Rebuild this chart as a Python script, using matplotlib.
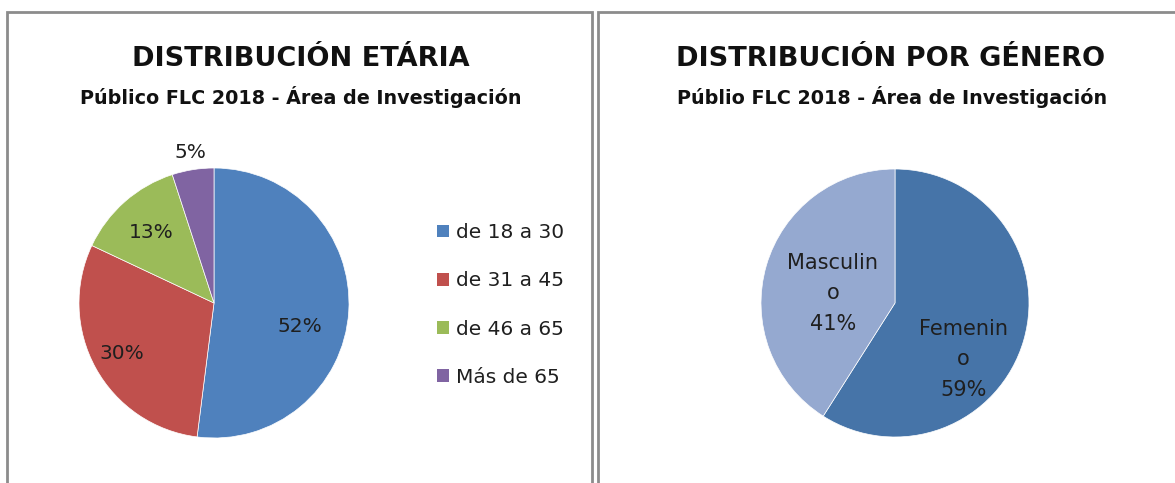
import numpy as np
import matplotlib
matplotlib.use('Agg')
import matplotlib.pyplot as plt
from matplotlib.patches import Rectangle, Patch

plt.rcParams['font.family'] = ['DejaVu Sans']

# Distribución etaria
edad_labels = ['de 18 a 30', 'de 31 a 45', 'de 46 a 65', 'Más de 65']
edad_values = [52, 30, 13, 5]
edad_colors = ['#4F81BD', '#C0504D', '#9BBB59', '#8064A2']

# Distribución por género
genero_labels = ['Femenin\no', 'Masculin\no']
genero_values = [59, 41]
genero_colors = ['#4674A8', '#95A9D0']

W, H = 1175, 483
fig = plt.figure(figsize=(W / 100, H / 100), dpi=100)
txt_color = '#1F1F1F'


def px_axes(cx, cy, r, pad=1.3):
    half = r * pad
    return fig.add_axes([(cx - half) / W, (H - cy - half) / H, 2 * half / W, 2 * half / H])


# panel borders
for x0, x1 in [(7, 592), (598, 1200)]:
    fig.add_artist(Rectangle((x0 / W, -0.1), (x1 - x0) / W, (H - 12) / H + 0.1,
                             transform=fig.transFigure, fill=False,
                             edgecolor='#8C8C8C', linewidth=2))

# left pie
ax1 = px_axes(214, 303, 135)
wedges, _ = ax1.pie(edad_values, colors=edad_colors, startangle=90, counterclock=False,
                    radius=1, wedgeprops=dict(linewidth=0.5, edgecolor='white'))
ax1.set_xlim(-1.3, 1.3)
ax1.set_ylim(-1.3, 1.3)
ax1.set_aspect('equal')
# label placement (radius fraction, angle override in degrees or None)
edad_lbl_pos = [(0.66, -15.5), (0.78, None), (0.70, None), (1.13, None)]
for w, v, (d, ang) in zip(wedges, edad_values, edad_lbl_pos):
    a = ang if ang is not None else (w.theta1 + w.theta2) / 2
    ax1.text(d * np.cos(np.radians(a)), d * np.sin(np.radians(a)), f'{v}%',
             ha='center', va='center', fontsize=14.5, color=txt_color)

fig.text(301 / W, 1 - 59 / H, 'DISTRIBUCIÓN ETÁRIA', ha='center', va='center',
         fontsize=19.5, fontweight='bold', color='#111111')
fig.text(301 / W, 1 - 97 / H, 'Público FLC 2018 - Área de Investigación', ha='center',
         va='center', fontsize=13.8, fontweight='bold', color='#111111')

handles = [Patch(facecolor=c, edgecolor='none') for c in edad_colors]
fig.legend(handles, edad_labels, loc='center left', bbox_to_anchor=(419 / W, 1 - 305 / H),
           frameon=False, prop={'size': 14.5}, labelspacing=1.45, handlelength=0.6,
           handleheight=0.6, handletextpad=0.35, labelcolor=txt_color)

# right pie
ax2 = px_axes(895, 303, 134)
wedges2, _ = ax2.pie(genero_values, colors=genero_colors, startangle=90, counterclock=False,
                     radius=1, wedgeprops=dict(linewidth=0.5, edgecolor='white'))
ax2.set_xlim(-1.3, 1.3)
ax2.set_ylim(-1.3, 1.3)
ax2.set_aspect('equal')
genero_lbl_pos = [(0.66, -39.5), (0.47, 171)]
for w, lab, v, (d, a) in zip(wedges2, genero_labels, genero_values, genero_lbl_pos):
    ax2.text(d * np.cos(np.radians(a)), d * np.sin(np.radians(a)), f'{lab}\n{v}%',
             ha='center', va='center', fontsize=15, color=txt_color, linespacing=1.65)

fig.text(891 / W, 1 - 59 / H, 'DISTRIBUCIÓN POR GÉNERO', ha='center', va='center',
         fontsize=19.5, fontweight='bold', color='#111111')
fig.text(892 / W, 1 - 97 / H, 'Públio FLC 2018 - Área de Investigación', ha='center',
         va='center', fontsize=13.8, fontweight='bold', color='#111111')

fig.savefig('out.png', dpi=100)
